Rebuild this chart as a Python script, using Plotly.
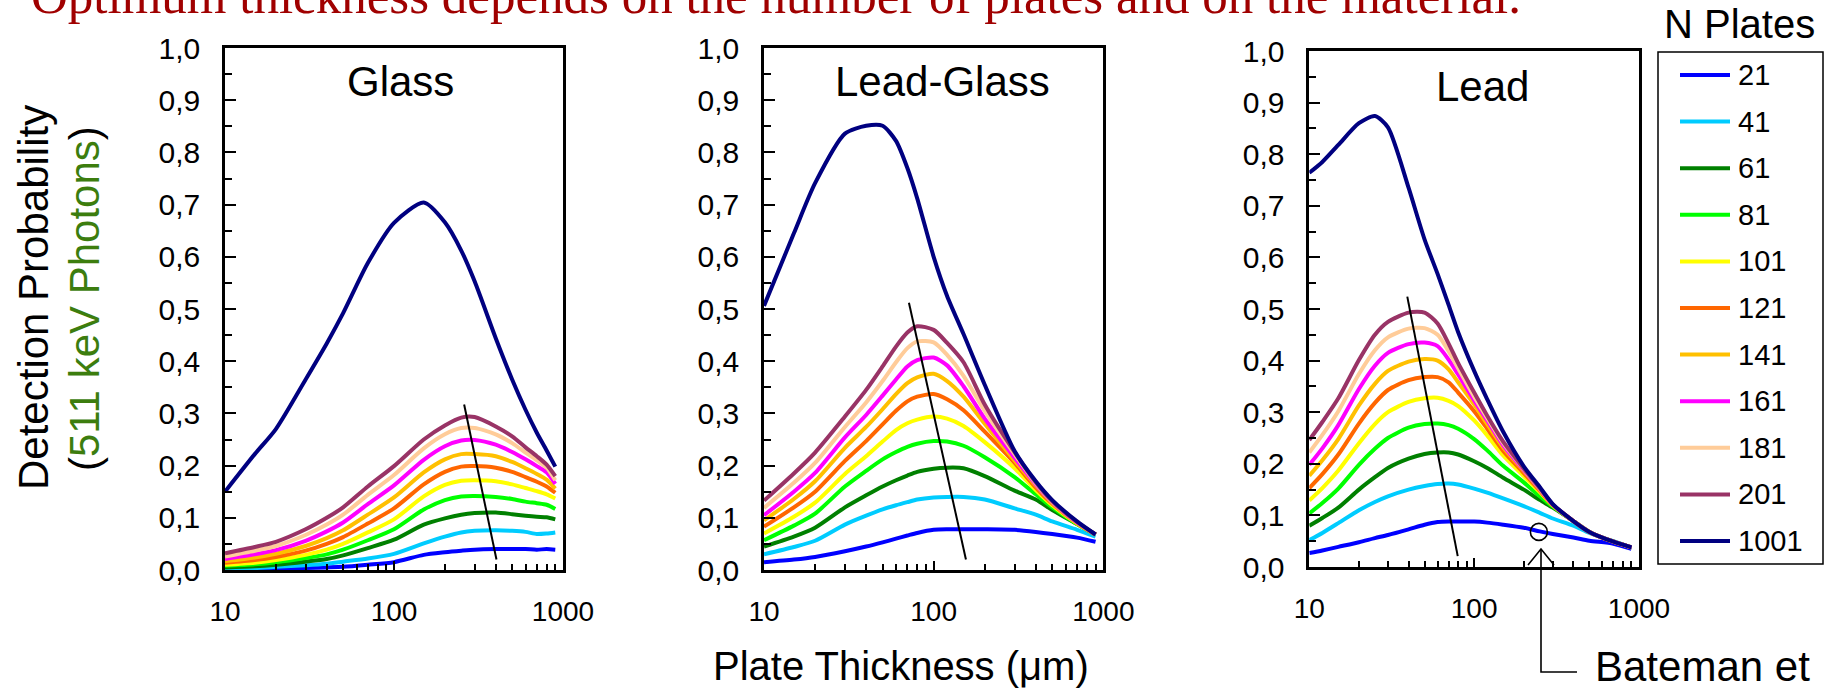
import plotly.graph_objects as go

W, H = 1826, 692

# ---------------- data ----------------
series_names = ["21", "41", "61", "81", "101", "121", "141", "161", "181", "201", "1001"]
series_colors = ["#0000FF", "#00CCFF", "#008000", "#00FF00", "#FFFF00", "#FF6600",
                 "#FFC000", "#FF00FF", "#FFCC99", "#993366", "#000080"]

# Glass
glass_x = [10, 15, 20, 30, 40, 50, 70, 100, 150, 200, 250, 300, 400, 500, 600, 700, 800, 900]
glass_21 = [.001, .002, .003, .004, .005, .006, .010, .015, .029, .034, .037, .039, .040, .040, .040, .039, .040, .039]
glass_41 = [.003, .004, .006, .009, .012, .016, .022, .031, .051, .064, .072, .075, .076, .075, .073, .069, .070, .072]
glass_61 = [.005, .007, .010, .016, .021, .028, .042, .058, .087, .099, .106, .109, .110, .107, .104, .102, .101, .097]
glass_81 = [.008, .011, .015, .023, .030, .039, .057, .078, .116, .134, .141, .142, .140, .136, .131, .128, .125, .117]
glass_101 = [.010, .014, .019, .029, .039, .050, .072, .097, .141, .163, .171, .172, .170, .164, .157, .151, .145, .137]
glass_121 = [.014, .019, .025, .037, .050, .063, .089, .118, .164, .188, .198, .199, .196, .188, .178, .169, .160, .148]
glass_141 = [.017, .024, .031, .046, .061, .076, .106, .139, .187, .212, .222, .222, .218, .207, .195, .184, .173, .156]
glass_161 = [.021, .030, .038, .056, .074, .091, .126, .162, .211, .237, .248, .249, .240, .226, .212, .199, .187, .165]
glass_181 = [.026, .037, .046, .067, .087, .106, .144, .182, .233, .260, .272, .272, .260, .243, .225, .210, .196, .172]
glass_201 = [.032, .044, .054, .078, .100, .120, .160, .199, .250, .277, .292, .293, .275, .256, .235, .218, .202, .180]
glass_1001 = [.150, .222, .270, .365, .434, .492, .588, .665, .704, .666, .612, .553, .444, .365, .307, .263, .229, .198]

# Lead-Glass
lead_glass_x = [10, 15, 20, 30, 40, 50, 60, 70, 80, 100, 120, 150, 200, 300, 400, 500, 700, 900]
lead_glass_21 = [.015, .020, .025, .036, .045, .053, .060, .066, .071, .077, .078, .078, .078, .077, .073, .069, .062, .054]
lead_glass_41 = [.030, .044, .056, .087, .104, .116, .124, .130, .135, .139, .140, .140, .135, .118, .106, .093, .077, .064]
lead_glass_61 = [.045, .064, .081, .120, .143, .160, .172, .181, .188, .194, .196, .195, .180, .152, .135, .115, .088, .068]
lead_glass_81 = [.057, .085, .108, .160, .190, .212, .226, .236, .242, .247, .246, .238, .216, .178, .145, .120, .088, .068]
lead_glass_101 = [.070, .102, .129, .184, .218, .246, .268, .281, .288, .294, .290, .276, .245, .195, .153, .124, .089, .068]
lead_glass_121 = [.083, .120, .150, .209, .247, .279, .305, .323, .332, .337, .327, .306, .265, .205, .158, .127, .090, .068]
lead_glass_141 = [.095, .136, .170, .234, .274, .308, .337, .358, .369, .376, .362, .332, .280, .210, .162, .128, .090, .068]
lead_glass_161 = [.105, .150, .186, .254, .297, .334, .365, .390, .402, .407, .392, .352, .290, .215, .164, .130, .091, .068]
lead_glass_181 = [.119, .167, .205, .274, .321, .362, .398, .425, .438, .436, .412, .372, .305, .222, .166, .131, .092, .068]
lead_glass_201 = [.133, .185, .225, .294, .345, .390, .428, .455, .467, .460, .435, .398, .317, .226, .168, .132, .092, .068]
lead_glass_1001 = [.506, .645, .741, .836, .851, .851, .822, .770, .712, .600, .525, .452, .355, .228, .170, .134, .093, .068]

# Lead
lead_x = [10, 12, 15, 20, 25, 30, 40, 50, 60, 70, 80, 100, 120, 150, 200, 250, 300, 400, 500, 700, 900]
lead_21 = [.027, .032, .039, .048, .056, .062, .073, .082, .087, .088, .088, .088, .086, .082, .076, .069, .064, .057, .051, .045, .035]
lead_41 = [.052, .066, .085, .110, .126, .137, .150, .157, .161, .162, .160, .152, .144, .133, .118, .105, .094, .080, .066, .050, .038]
lead_61 = [.080, .095, .115, .150, .174, .192, .210, .219, .222, .222, .218, .205, .192, .173, .150, .130, .115, .089, .068, .049, .038]
lead_81 = [.104, .124, .152, .198, .229, .250, .270, .277, .278, .275, .268, .248, .226, .196, .164, .137, .117, .089, .068, .049, .038]
lead_101 = [.129, .153, .187, .240, .277, .300, .320, .327, .328, .322, .312, .284, .255, .216, .176, .145, .119, .089, .068, .049, .038]
lead_121 = [.153, .180, .218, .278, .318, .343, .362, .368, .368, .358, .338, .302, .268, .225, .182, .148, .120, .089, .068, .049, .038]
lead_141 = [.177, .207, .248, .313, .355, .380, .398, .403, .400, .383, .358, .315, .277, .232, .186, .150, .120, .089, .068, .049, .038]
lead_161 = [.198, .230, .275, .345, .390, .415, .432, .435, .428, .402, .373, .323, .284, .236, .188, .151, .121, .089, .068, .049, .038]
lead_181 = [.222, .256, .302, .374, .420, .445, .462, .463, .450, .418, .385, .330, .289, .240, .190, .152, .121, .089, .068, .049, .038]
lead_201 = [.246, .281, .327, .401, .450, .475, .493, .493, .472, .433, .395, .338, .293, .243, .191, .153, .121, .089, .068, .049, .038]
lead_1001 = [.764, .785, .818, .860, .874, .852, .735, .635, .568, .508, .455, .380, .325, .262, .195, .155, .122, .089, .068, .049, .038]

# optimum-thickness guide lines
glass_opt_x = [260, 404]
glass_opt_y = [0.317, 0.020]
lead_glass_opt_x = [71.5, 155]
lead_glass_opt_y = [0.512, 0.020]
lead_opt_x = [39.3, 79.5]
lead_opt_y = [0.524, 0.021]

# Bateman et al. point (Lead panel)
bateman_x = [247]
bateman_y = [0.068]

# ticks
x_tick_vals = [10, 100, 1000]
x_tick_text = ["10", "100", "1000"]
x_minor_vals = [20, 30, 40, 50, 60, 70, 80, 90, 200, 300, 400, 500, 600, 700, 800, 900]
y_tick_vals = [0.0, 0.1, 0.2, 0.3, 0.4, 0.5, 0.6, 0.7, 0.8, 0.9, 1.0]
y_tick_text = ["0,0", "0,1", "0,2", "0,3", "0,4", "0,5", "0,6", "0,7", "0,8", "0,9", "1,0"]
y_minor_vals = [0.05, 0.15, 0.25, 0.35, 0.45, 0.55, 0.65, 0.75, 0.85, 0.95]

panel_titles = ["Glass", "Lead-Glass", "Lead"]

# ---------------- figure ----------------
SANS = "Liberation Sans, Arial, sans-serif"
SERIF = "Liberation Serif, Times New Roman, serif"


def px(x):
    return x / W


def py(y):
    return 1 - y / H


panels = [
    dict(x0=225, x1=563, ytop=48, ybot=570, tx=400, ty=82,
         xs=glass_x,
         ys=[glass_21, glass_41, glass_61, glass_81, glass_101, glass_121,
             glass_141, glass_161, glass_181, glass_201, glass_1001],
         ox=glass_opt_x, oy=glass_opt_y),
    dict(x0=764, x1=1103.3, ytop=48, ybot=570, tx=942, ty=82,
         xs=lead_glass_x,
         ys=[lead_glass_21, lead_glass_41, lead_glass_61, lead_glass_81, lead_glass_101,
             lead_glass_121, lead_glass_141, lead_glass_161, lead_glass_181,
             lead_glass_201, lead_glass_1001],
         ox=lead_glass_opt_x, oy=lead_glass_opt_y),
    dict(x0=1309.3, x1=1639, ytop=51, ybot=567, tx=1482, ty=86,
         xs=lead_x,
         ys=[lead_21, lead_41, lead_61, lead_81, lead_101, lead_121, lead_141,
             lead_161, lead_181, lead_201, lead_1001],
         ox=lead_opt_x, oy=lead_opt_y),
]

fig = go.Figure()
layout = dict(width=W, height=H,
              margin=dict(l=0, r=0, t=0, b=0, pad=0, autoexpand=False),
              paper_bgcolor="white", plot_bgcolor="white", showlegend=False)

annotations = []
shapes = []

for i, p in enumerate(panels):
    suf = "" if i == 0 else str(i + 1)
    xref, yref = "x" + suf, "y" + suf
    for name, color, yv in zip(series_names, series_colors, p["ys"]):
        fig.add_trace(go.Scatter(x=p["xs"], y=yv, mode="lines", name=name,
                                 line=dict(color=color, width=4, shape="spline", smoothing=0.7),
                                 xaxis=xref, yaxis=yref, showlegend=False, hoverinfo="skip"))
    fig.add_trace(go.Scatter(x=p["ox"], y=p["oy"], mode="lines",
                             line=dict(color="black", width=2),
                             xaxis=xref, yaxis=yref, showlegend=False, hoverinfo="skip"))
    if i == 2:
        fig.add_trace(go.Scatter(x=bateman_x, y=bateman_y, mode="markers",
                                 marker=dict(symbol="circle-open", size=17, color="black",
                                             line=dict(width=1.6, color="black")),
                                 xaxis=xref, yaxis=yref, showlegend=False, hoverinfo="skip"))

    layout["xaxis" + suf] = dict(
        type="log", range=[1, 3], domain=[px(p["x0"]), px(p["x1"])], anchor=yref,
        automargin=False,
        tickmode="array", tickvals=x_tick_vals, ticktext=x_tick_text,
        ticks="inside", ticklen=9, tickwidth=2, tickcolor="black",
        minor=dict(tickmode="array", tickvals=x_minor_vals, ticks="inside",
                   ticklen=6, tickwidth=1.5, tickcolor="black", showgrid=False),
        showline=True, linecolor="black", linewidth=2.5, mirror=True,
        showgrid=False, zeroline=False, ticklabelstandoff=15,
        tickfont=dict(family=SANS, size=28, color="black"), fixedrange=True)
    layout["yaxis" + suf] = dict(
        range=[0, 1], domain=[py(p["ybot"]), py(p["ytop"])], anchor=xref,
        automargin=False,
        tickmode="array", tickvals=y_tick_vals, ticktext=y_tick_text,
        ticks="inside", ticklen=11, tickwidth=2, tickcolor="black",
        minor=dict(tickmode="array", tickvals=y_minor_vals, ticks="inside",
                   ticklen=7, tickwidth=1.5, tickcolor="black", showgrid=False),
        showline=True, linecolor="black", linewidth=2.5, mirror=True,
        showgrid=False, zeroline=False, ticklabelstandoff=16,
        tickfont=dict(family=SANS, size=30, color="black"), fixedrange=True)

    annotations.append(dict(text=panel_titles[i], x=px(p["tx"]), y=py(p["ty"]),
                            xref="paper", yref="paper", xanchor="center", yanchor="middle",
                            showarrow=False, font=dict(family=SANS, size=42, color="black")))

# headline (partly cut at top, as in the reference)
annotations.append(dict(text="Optimum thickness depends on the number of plates and on the material.",
                        x=px(29), y=py(-4), xref="paper", yref="paper",
                        xanchor="left", yanchor="middle", showarrow=False,
                        font=dict(family=SERIF, size=51, color="#A00000")))

# axis titles
annotations.append(dict(text="Detection Probability", x=px(33), y=py(298),
                        xref="paper", yref="paper", xanchor="center", yanchor="middle",
                        textangle=-90, showarrow=False,
                        font=dict(family=SANS, size=42, color="black")))
annotations.append(dict(text="(<span style='color:#3C7D0E'>511 keV Photons</span>)",
                        x=px(84), y=py(299), xref="paper", yref="paper",
                        xanchor="center", yanchor="middle", textangle=-90, showarrow=False,
                        font=dict(family=SANS, size=42, color="black")))
annotations.append(dict(text="Plate Thickness (\u03bcm)", x=px(901), y=py(666),
                        xref="paper", yref="paper", xanchor="center", yanchor="middle",
                        showarrow=False, font=dict(family=SANS, size=40, color="black")))

# Bateman annotation
annotations.append(dict(text="Bateman et", x=px(1593), y=py(666), xref="paper", yref="paper",
                        xanchor="left", yanchor="middle", showarrow=False,
                        font=dict(family=SANS, size=42, color="black")))


def path(points):
    return "M " + " L ".join(f"{px(a):.6f},{py(b):.6f}" for a, b in points)


shapes.append(dict(type="path", xref="paper", yref="paper",
                   path=path([(1528, 565), (1541, 549), (1554, 565)]),
                   line=dict(color="black", width=1.6)))
shapes.append(dict(type="path", xref="paper", yref="paper",
                   path=path([(1541, 549), (1541, 672), (1577, 672)]),
                   line=dict(color="black", width=1.6)))

# legend (N Plates)
annotations.append(dict(text="N Plates", x=px(1739), y=py(24), xref="paper", yref="paper",
                        xanchor="center", yanchor="middle", showarrow=False,
                        font=dict(family=SANS, size=40, color="black")))
shapes.append(dict(type="rect", xref="paper", yref="paper",
                   x0=px(1658), x1=px(1823), y0=py(564), y1=py(52),
                   line=dict(color="black", width=1.5), fillcolor="white", layer="below"))
for k, (name, color) in enumerate(zip(series_names, series_colors)):
    yy = 75 + 46.6 * k
    shapes.append(dict(type="line", xref="paper", yref="paper",
                       x0=px(1680), x1=px(1730), y0=py(yy), y1=py(yy),
                       line=dict(color=color, width=4)))
    annotations.append(dict(text=name, x=px(1736), y=py(yy), xref="paper", yref="paper",
                            xanchor="left", yanchor="middle", showarrow=False,
                            font=dict(family=SANS, size=29, color="black")))

layout["annotations"] = annotations
layout["shapes"] = shapes
fig.update_layout(**layout)

fig.write_html("out.html", config={"displayModeBar": False})
